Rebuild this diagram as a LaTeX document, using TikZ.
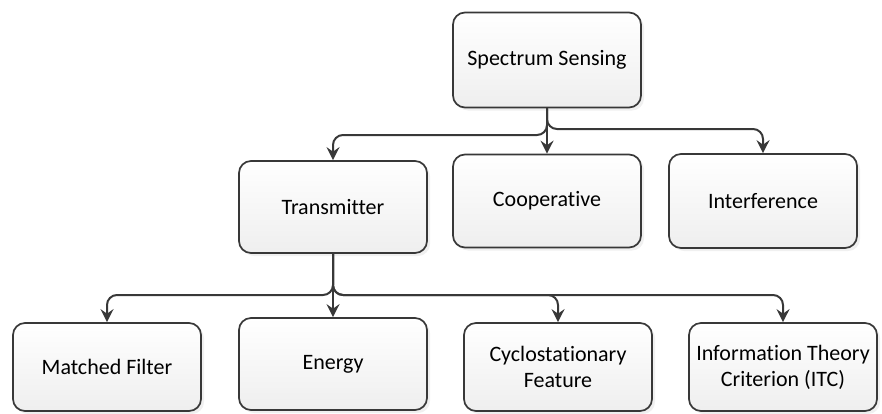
\documentclass[tikz,border=0pt]{standalone}
\usepackage{fontspec}
\setmainfont{Carlito}[Ligatures=NoCommon]
\usetikzlibrary{arrows.meta,shadows}

\definecolor{lineGray}{RGB}{56,56,56}

\tikzset{
  blk/.style={draw=lineGray, line width=1.7pt, rounded corners=12pt,
    top color=white, bottom color=gray!13,
    drop shadow={shadow xshift=3pt, shadow yshift=-3pt, opacity=0.12, fill=gray},
    minimum width=188pt, align=center, inner sep=1pt,
    font=\fontsize{22}{26}\selectfont},
  link/.style={draw=lineGray, line width=2pt, rounded corners=10pt,
    -{Stealth[length=13pt, width=13pt, inset=4.5pt]}}
}

\begin{document}
\begin{tikzpicture}[x=1pt, y=-1pt]
\useasboundingbox (0,0) rectangle (882,413);

% top level
\node[blk, minimum height=95pt] (ss) at (547,60) {Spectrum Sensing};

% second level
\node[blk, minimum height=92pt] (tx) at (333,207) {Transmitter};
\node[blk, minimum height=93pt] (coop) at (547,201) {Cooperative};
\node[blk, minimum height=94pt] (intf) at (763,201) {Interference};

% third level
\node[blk, minimum height=88pt] (mf) at (107,367) {Matched Filter};
\node[blk, minimum height=92pt] (en) at (333,364) {Energy};
\node[blk, minimum height=88pt] (cyc) at (558,367) {Cyclostationary\\Feature};
\node[blk, minimum height=88pt] (itc) at (783,367) {Information Theory\\Criterion (ITC)};

\coordinate (busL) at (0,135);
\coordinate (busR) at (0,129);
\coordinate (busB) at (0,295);

\draw[link] (ss.south) -- (ss.south |- busL) -| (tx.north);
\draw[link] (ss.south) -- (coop.north);
\draw[link] (ss.south) -- (ss.south |- busR) -| (intf.north);

\foreach \kid in {mf,cyc,itc}
{
    \draw[link] (tx.south) -- (tx.south |- busB) -| (\kid.north);
};
\draw[link] (tx.south) -- (en.north);

\end{tikzpicture}
\end{document}
